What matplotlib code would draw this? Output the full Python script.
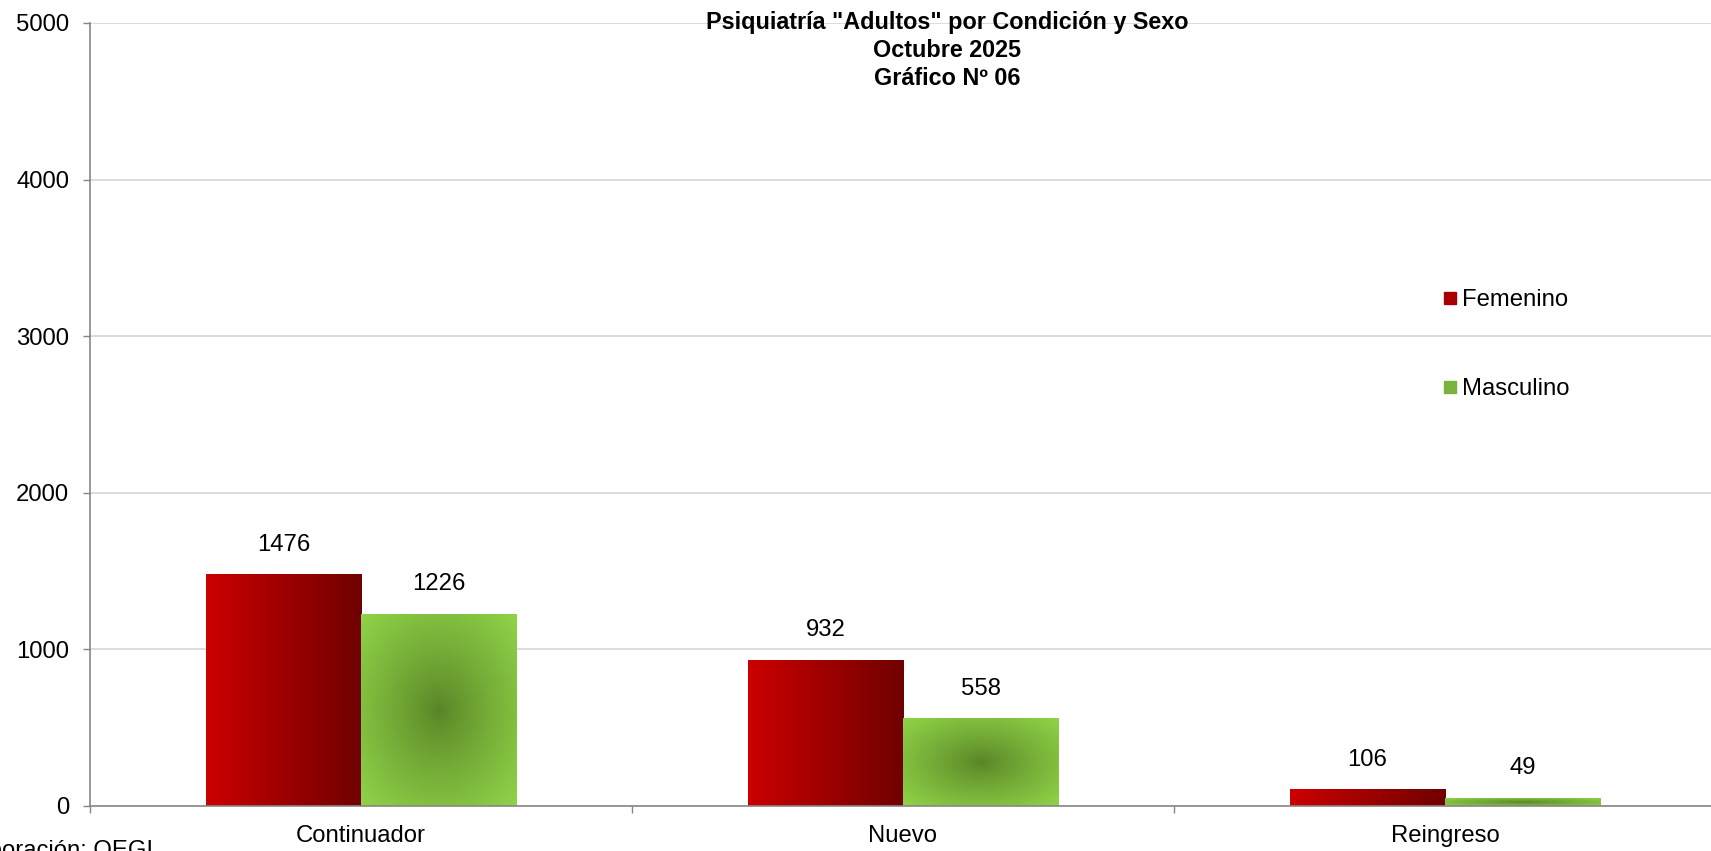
import numpy as np
import matplotlib.pyplot as plt
from matplotlib.lines import Line2D

####################
# Data
####################
categories = ['Continuador', 'Nuevo', 'Reingreso']
femenino = [1476, 932, 106]
masculino = [1226, 558, 49]
series_names = ['Femenino', 'Masculino']
title_lines = ['Psiquiatría "Adultos" por Condición y Sexo', 'Octubre 2025', 'Gráfico Nº 06']
y_ticks = [0, 1000, 2000, 3000, 4000, 5000]

plt.rcParams['font.family'] = ['Liberation Sans', 'DejaVu Sans']
fs = 17.2

####################
# Figure
####################
fig = plt.figure(figsize=(17.11, 8.51), dpi=100)
ax = fig.add_axes([90/1711, 1 - 806/851, 1626/1711, 783/851])

x = np.arange(len(categories))
w = 0.286
ax.set_xlim(-0.5, len(categories) - 0.5)
ax.set_ylim(0, 5000)

bars_f = ax.bar(x - w/2, femenino, w, color='none', zorder=3)
bars_m = ax.bar(x + w/2, masculino, w, color='none', zorder=3)

# gradient fills
red_l = np.array([204, 0, 0]) / 255
red_r = np.array([112, 0, 0]) / 255
grn_c = np.array([88, 132, 38]) / 255
grn_e = np.array([144, 212, 72]) / 255

for b in bars_f:
    x0, y0, bw, bh = b.get_x(), b.get_y(), b.get_width(), b.get_height()
    t = np.linspace(0, 1, 200)[None, :, None]
    img = red_l + (red_r - red_l) * t
    ax.imshow(img, extent=[x0, x0 + bw, y0, y0 + bh], aspect='auto',
              zorder=2, clip_path=b, interpolation='bilinear')

for b in bars_m:
    x0, y0, bw, bh = b.get_x(), b.get_y(), b.get_width(), b.get_height()
    xx = np.linspace(-1, 1, 200)
    yy = np.linspace(-1, 1, 200)
    X, Y = np.meshgrid(xx, yy)
    r = np.clip(np.sqrt(X**2 + Y**2) / np.sqrt(2), 0, 1)[:, :, None]
    img = grn_c + (grn_e - grn_c) * r**0.85
    ax.imshow(img, extent=[x0, x0 + bw, y0, y0 + bh], aspect='auto',
              zorder=2, clip_path=b, interpolation='bilinear', origin='lower')

ax.set_xlim(-0.5, len(categories) - 0.5)
ax.set_ylim(0, 5000)

# data labels
for bars, vals in [(bars_f, femenino), (bars_m, masculino)]:
    for b, v in zip(bars, vals):
        ax.annotate(str(v), (b.get_x() + b.get_width()/2, v), xytext=(0, 21.5),
                    textcoords='offset points', ha='center', va='center',
                    fontsize=fs, color='#000000')

# axes styling
ax.set_yticks(y_ticks)
ax.yaxis.grid(True, color='#D9D9D9', linewidth=1.3, zorder=0)
ax.set_axisbelow(True)
ax.set_xticks(x)
ax.set_xticklabels(categories, fontsize=fs)
ax.set_xticks(np.arange(-0.5, len(categories)), minor=True)
ax.tick_params(axis='x', which='major', length=0, pad=14)
ax.tick_params(axis='x', which='minor', length=5, color='#868686', width=1)
ax.tick_params(axis='y', length=5, color='#868686', width=1, pad=10, labelsize=fs)
for s in ['top', 'right']:
    ax.spines[s].set_visible(False)
for s in ['left', 'bottom']:
    ax.spines[s].set_color('#868686')
    ax.spines[s].set_linewidth(1.2)

# legend
handles = [Line2D([], [], marker='s', linestyle='none', markersize=9,
                  markerfacecolor='#A80000', markeredgecolor='#A80000'),
           Line2D([], [], marker='s', linestyle='none', markersize=9,
                  markerfacecolor='#78B43C', markeredgecolor='#78B43C')]
fig.legend(handles, series_names, loc='upper left', bbox_to_anchor=(1443/1711, 1 - 289/851),
           frameon=False, fontsize=fs, labelspacing=2.8, handlelength=0.6,
           handletextpad=0.2, borderpad=0, borderaxespad=0)

# title
fig.text(947/1711, 1 - 10.5/851, '\n'.join(title_lines), ha='center', va='top',
         fontsize=16.8, fontweight='bold', linespacing=1.28)

# footer (cut off at bottom edge, as in the source)
fig.text(153/1711, 1 - 840/851, 'Elaboración: OEGI', ha='right', va='top', fontsize=fs)

fig.savefig('out.png', dpi=100)
